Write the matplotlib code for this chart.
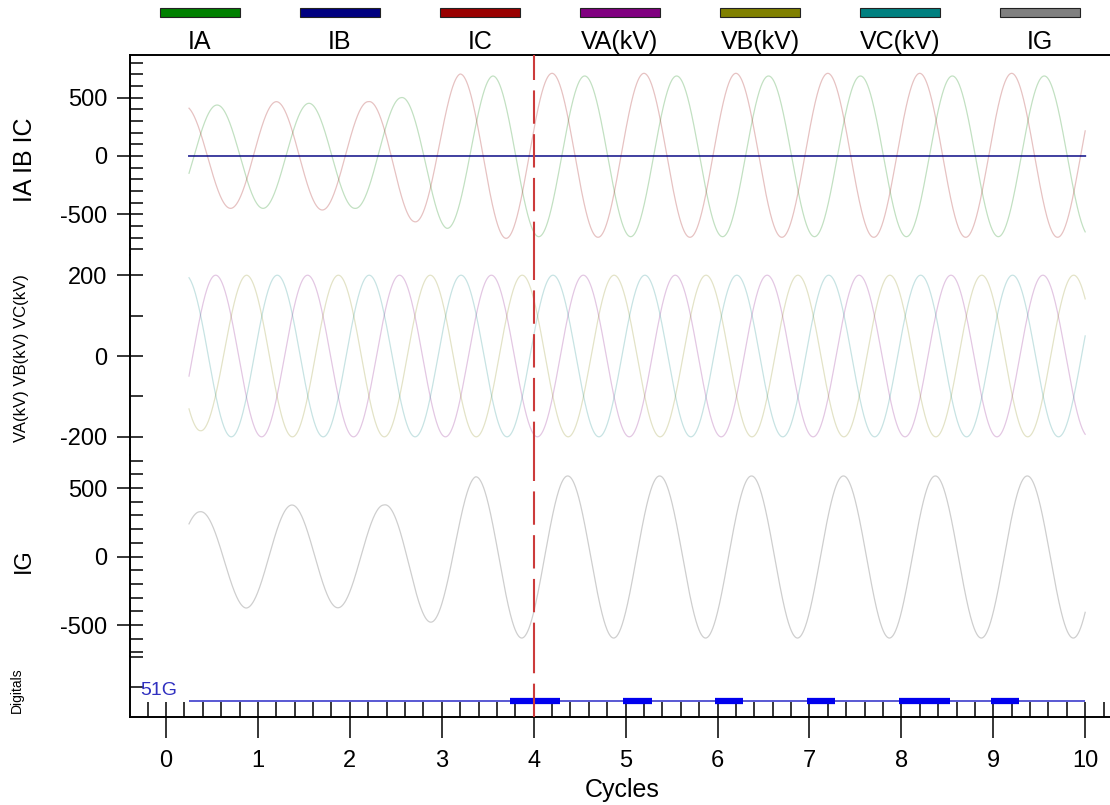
import numpy as np
import matplotlib
matplotlib.use('Agg')
import matplotlib.pyplot as plt
from matplotlib.patches import Rectangle
from matplotlib.ticker import FixedLocator

plt.rcParams['font.family'] = ['Liberation Sans', 'DejaVu Sans']
plt.rcParams['axes.unicode_minus'] = False

# ---- data ----
channel_names = ['IA', 'IB', 'IC', 'VA(kV)', 'VB(kV)', 'VC(kV)', 'IG']
channel_colors = ['#008000', '#000080', '#990000', '#800080', '#808000', '#008080', '#808080']

t_start, t_end = 0.25, 10.0   # cycles covered by the record
marker_t = 4.0                # trigger cursor

# each trace: time of first extremum (cycles) + signed extrema every half cycle
ia_first = 0.555
ia_peaks = [437, -449, 452, -449, 500, -620, 686, -692, 686, -692,
            686, -692, 686, -692, 686, -692, 686, -692, 686, -692]
ib_first = 0.22
ib_peaks = [0] * 20
ic_first = 0.2
ic_peaks = [429, -449, 466, -463, 466, -563, 703, -706, 709, -697,
            709, -697, 709, -697, 709, -697, 709, -697, 709, -697]

va_first = 0.54
va_peaks = [200, -200] * 10
vb_first = 0.375
vb_peaks = [-185, 200, -200, 200, -200, 200, -200, 200, -200, 200,
            -200, 200, -200, 200, -200, 200, -200, 200, -200, 200]
vc_first = 0.21
vc_peaks = [200, -200] * 10

ig_first = 0.37
ig_peaks = [327, -376, 376, -374, 376, -478, 582, -595, 588, -595,
            588, -595, 588, -595, 588, -595, 588, -595, 588, -595]

# 51G digital: pickup intervals (cycles)
g51_on = [3.74, 4.97, 5.97, 6.97, 7.97, 8.97]
g51_off = [4.29, 5.29, 6.28, 7.28, 8.53, 9.28]


def waveform(t, first, peaks):
    """Rebuild a 60 Hz trace from its half-cycle extrema."""
    peaks = np.asarray(peaks, dtype=float)
    pt = first + 0.5 * np.arange(len(peaks))
    env = np.interp(t, pt, np.abs(peaks))
    sign = 1.0 if peaks[0] >= 0 else -1.0
    return sign * env * np.cos(2 * np.pi * (t - first))


t = np.linspace(t_start, t_end, 4000)

W, H = 1110, 805
fig = plt.figure(figsize=(W / 100, H / 100), dpi=100)


def add_panel(top, bottom):
    return fig.add_axes([130 / W, 1 - bottom / H, 980 / W, (bottom - top) / H])


ax_i = add_panel(55, 255)
ax_v = add_panel(255, 455)
ax_g = add_panel(455, 656)
ax_d = add_panel(656, 717)
axes = [ax_i, ax_v, ax_g, ax_d]

for ax in axes:
    ax.set_xlim(-0.392, 10.27)
    ax.spines['right'].set_visible(False)
    ax.spines['top'].set_visible(ax is ax_i)
    ax.spines['bottom'].set_visible(ax is ax_d)
    for s in ax.spines.values():
        s.set_linewidth(1.4)
    ax.tick_params(axis='y', which='major', direction='inout', length=19, width=1.1,
                   pad=7, labelsize=17)
    ax.tick_params(axis='y', which='minor', direction='in', length=9.5, width=1.1)
    if ax is not ax_d:
        ax.tick_params(axis='x', which='both', bottom=False, labelbottom=False)
    ax.axvline(marker_t, color='#cc3b3b', lw=1.5, ls=(0, (16, 5)), zorder=5)

# currents
alpha_tr = 0.24
ax_i.plot(t, waveform(t, ia_first, ia_peaks), color=channel_colors[0], lw=0.9, alpha=alpha_tr)
ax_i.plot(t, waveform(t, ic_first, ic_peaks), color=channel_colors[2], lw=0.9, alpha=alpha_tr)
ax_i.plot(t, waveform(t, ib_first, ib_peaks), color=channel_colors[1], lw=1.4, alpha=0.75)
ax_i.set_ylim(-849, 866)
ax_i.set_yticks([-500, 0, 500])
ax_i.yaxis.set_minor_locator(FixedLocator([v for v in range(-800, 801, 100) if v % 500]))

# voltages
ax_v.plot(t, waveform(t, va_first, va_peaks), color=channel_colors[3], lw=0.9, alpha=0.22)
ax_v.plot(t, waveform(t, vb_first, vb_peaks), color=channel_colors[4], lw=0.9, alpha=0.22)
ax_v.plot(t, waveform(t, vc_first, vc_peaks), color=channel_colors[5], lw=0.9, alpha=0.22)
ax_v.set_ylim(-245, 250)
ax_v.set_yticks([-200, 0, 200])
ax_v.yaxis.set_minor_locator(FixedLocator([-100, 100]))

# ground current
ax_g.plot(t, waveform(t, ig_first, ig_peaks), color=channel_colors[6], lw=0.9, alpha=0.38)
ax_g.set_ylim(-726, 741)
ax_g.set_yticks([-500, 0, 500])
ax_g.yaxis.set_minor_locator(FixedLocator([v for v in range(-700, 701, 100) if v % 500]))

# digitals
ax_d.set_ylim(0, 1)
ax_d.set_yticks([])
ax_d.yaxis.set_minor_locator(FixedLocator([0.494, 0.985]))
ax_d.hlines(0.264, t_start, t_end, color='#3c3ccc', lw=1.2)
ax_d.hlines([0.264] * len(g51_on), g51_on, g51_off, color='#0000ee', lw=4.5)
ax_d.text(-0.28, 0.44, '51G', color='#3030c0', fontsize=14, ha='left', va='center')

ax_d.set_xticks(range(0, 11))
ax_d.xaxis.set_minor_locator(FixedLocator(np.round(np.arange(-0.2, 10.21, 0.2), 2)))
ax_d.xaxis.remove_overlapping_locs = False
ax_d.tick_params(axis='x', which='major', direction='out', length=15, width=1.1,
                 pad=9, labelsize=17)
ax_d.tick_params(axis='x', which='minor', direction='in', length=11, width=1.1)

# channel labels
fig.text(25 / W, 1 - 160 / H, 'IA IB IC', rotation=90, ha='center', va='center', fontsize=18)
fig.text(22 / W, 1 - 358 / H, 'VA(kV) VB(kV) VC(kV)', rotation=90, ha='center', va='center', fontsize=12)
fig.text(24 / W, 1 - 561 / H, 'IG', rotation=90, ha='center', va='center', fontsize=17)
fig.text(17 / W, 1 - 690 / H, 'Digitals', rotation=90, ha='center', va='center', fontsize=10)
fig.text(622 / W, 1 - 797 / H, 'Cycles', ha='center', va='baseline', fontsize=18)

# legend strip
for i, (name, col) in enumerate(zip(channel_names, channel_colors)):
    cx = 200 + 140 * i
    fig.patches.append(Rectangle(((cx - 40) / W, 1 - 17.5 / H), 80 / W, 9 / H,
                                 transform=fig.transFigure, facecolor=col,
                                 edgecolor='#222222', lw=0.8))
    fig.text(cx / W, 1 - 42 / H, name, ha='center', va='center', fontsize=18)

fig.savefig('out.png', dpi=100)
